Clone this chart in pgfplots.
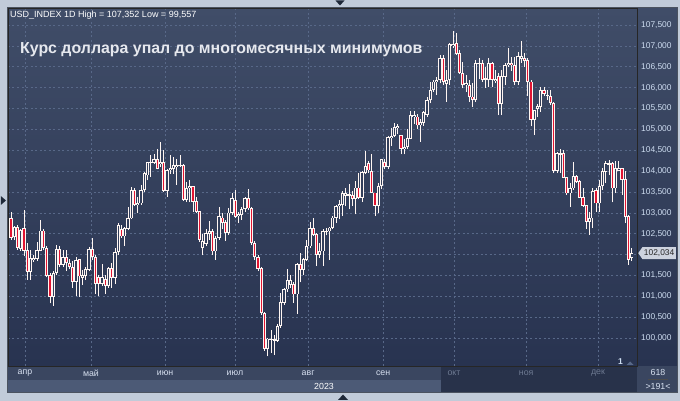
\documentclass[border=0pt]{standalone}
\usepackage{pgfplots}
\pgfplotsset{compat=1.18}
\usepackage{pgfplotstable}
\usepackage{fontspec}
\setmainfont{Liberation Sans}
\usetikzlibrary{shapes.symbols}

\definecolor{framec}{RGB}{193,203,217}
\definecolor{paneltop}{RGB}{64,77,104}
\definecolor{panelbot}{RGB}{40,51,80}
\definecolor{hollow}{RGB}{50,62,90}
\definecolor{candlered}{RGB}{225,20,50}
\definecolor{wickc}{RGB}{255,246,242}
\definecolor{gridc}{RGB}{88,104,136}
\definecolor{pricetxt}{RGB}{205,220,240}
\definecolor{monthtxt}{RGB}{215,224,240}
\definecolor{dimtxt}{RGB}{110,122,146}
\definecolor{rowA}{RGB}{58,70,96}
\definecolor{rowB}{RGB}{76,90,118}
\definecolor{rowdark}{RGB}{40,50,74}
\definecolor{tagfill}{RGB}{205,211,222}
\definecolor{titlec}{RGB}{230,232,238}
\definecolor{navy}{RGB}{30,40,56}

\pgfplotstableread{
i O H L C
0 102.86 103.01 102.36 102.41
1 102.42 102.68 102.36 102.66
2 102.66 102.70 102.12 102.17
3 102.14 102.62 102.08 102.58
4 102.63 103.07 101.96 102.10
5 102.10 102.28 101.40 101.59
6 101.59 102.12 101.40 101.90
7 101.88 102.00 101.82 101.92
8 101.90 102.30 101.85 102.10
9 102.10 102.82 102.08 102.57
10 102.57 102.60 102.10 102.16
11 102.16 102.20 101.45 101.50
12 101.50 101.55 100.83 101.00
13 101.00 101.60 100.77 101.56
14 101.56 102.24 101.50 102.12
15 102.12 102.20 101.70 101.76
16 101.76 102.10 101.70 101.94
17 101.94 102.12 101.60 101.80
18 101.80 101.90 101.65 101.70
19 101.70 101.84 101.20 101.35
20 101.35 101.94 101.00 101.86
21 101.88 101.90 100.98 101.48
22 101.44 101.64 101.28 101.50
23 101.50 101.70 101.40 101.64
24 101.64 102.18 101.60 102.12
25 102.12 102.40 101.88 101.94
26 101.94 102.00 101.05 101.30
27 101.45 101.50 101.00 101.30
28 101.30 101.78 101.25 101.45
29 101.40 101.50 101.05 101.25
30 101.25 101.70 101.20 101.66
31 101.66 101.80 101.20 101.45
32 101.45 102.16 101.30 102.06
33 102.06 102.75 102.00 102.69
34 102.60 102.70 102.40 102.44
35 102.44 102.67 102.20 102.62
36 102.62 103.13 102.58 102.87
37 102.87 103.61 102.84 103.55
38 103.55 103.59 103.17 103.19
39 103.19 103.39 102.99 103.23
40 103.23 103.67 103.19 103.55
41 103.55 103.98 103.51 103.94
42 103.90 104.22 103.78 104.20
43 104.20 104.38 103.86 104.22
44 104.20 104.40 104.18 104.28
45 104.28 104.54 104.04 104.06
46 104.18 104.70 104.10 104.22
47 104.22 104.50 103.50 103.53
48 103.53 104.06 103.39 104.02
49 104.02 104.38 103.94 104.06
50 104.06 104.34 103.94 104.14
51 104.10 104.30 103.67 104.14
52 104.12 104.38 104.10 104.14
53 104.14 104.16 103.29 103.31
54 103.31 103.75 103.27 103.59
55 103.59 103.79 103.25 103.63
56 103.63 103.63 103.03 103.27
57 103.27 103.39 102.99 103.03
58 103.03 103.05 102.30 102.36
59 102.16 102.50 101.98 102.32
60 102.26 102.60 102.20 102.50
61 102.50 102.80 102.36 102.56
62 102.56 102.60 102.00 102.08
63 102.08 102.45 101.88 102.40
64 102.40 103.15 102.36 102.91
65 102.88 102.99 102.60 102.77
66 102.77 102.83 102.32 102.52
67 102.52 103.11 102.48 103.00
68 103.00 103.47 102.95 103.35
69 103.31 103.55 102.87 102.91
70 102.92 103.03 102.75 102.97
71 102.95 103.15 102.83 103.09
72 103.09 103.39 103.03 103.35
73 103.35 103.56 103.07 103.11
74 103.11 103.15 102.24 102.28
75 102.28 102.32 101.88 101.94
76 101.94 101.98 101.60 101.67
77 101.67 101.70 100.55 100.60
78 100.60 100.62 99.70 99.75
79 99.75 100.00 99.557 99.98
80 99.96 100.20 99.64 99.98
81 99.94 100.07 99.60 99.96
82 99.94 100.33 99.90 100.29
83 100.29 101.07 100.25 100.85
84 100.85 101.20 100.80 101.17
85 101.17 101.66 101.10 101.38
86 101.28 101.50 101.20 101.38
87 101.29 101.33 100.85 101.05
88 101.05 101.80 100.57 101.76
89 101.76 102.04 101.33 101.64
90 101.64 101.92 101.52 101.88
91 101.88 102.36 101.85 102.20
92 102.20 102.79 102.16 102.63
93 102.63 102.87 102.44 102.48
94 102.48 102.52 101.72 102.00
95 102.00 102.28 101.92 102.08
96 102.08 102.60 101.72 102.56
97 102.54 102.63 102.46 102.56
98 102.56 102.67 101.88 102.64
99 102.64 102.92 102.60 102.88
100 102.88 103.18 102.76 103.16
101 103.16 103.30 102.84 103.20
102 103.20 103.52 102.92 103.46
103 103.42 103.60 103.16 103.46
104 103.42 103.70 103.08 103.44
105 103.42 103.52 103.16 103.34
106 103.34 103.76 102.96 103.60
107 103.60 103.96 103.32 103.36
108 103.36 104.00 103.26 103.96
109 103.96 104.48 103.92 104.12
110 104.18 104.24 103.96 104.02
111 104.00 104.40 103.48 103.48
112 103.48 103.48 102.92 103.18
113 103.18 103.72 103.00 103.64
114 103.64 104.30 103.56 104.28
115 104.22 104.28 104.04 104.10
116 104.10 104.84 104.04 104.80
117 104.80 105.04 104.60 104.84
118 104.84 105.16 104.82 105.06
119 105.04 105.12 104.88 105.08
120 104.86 104.86 104.40 104.54
121 104.54 104.76 104.40 104.58
122 104.58 105.00 104.54 104.78
123 104.78 105.44 104.76 105.34
124 105.30 105.44 105.14 105.34
125 105.30 105.36 105.00 105.10
126 105.10 105.24 104.70 105.16
127 105.16 105.44 105.08 105.40
128 105.35 105.78 105.30 105.70
129 105.70 106.14 105.62 105.94
130 105.94 106.18 105.90 106.14
131 106.14 106.26 105.82 106.18
132 106.18 106.78 106.10 106.70
133 106.70 106.78 106.06 106.14
134 106.10 106.42 105.66 106.18
135 106.18 107.06 106.06 107.04
136 107.00 107.352 106.95 107.04
137 107.06 107.30 106.78 106.82
138 106.82 106.90 106.33 106.35
139 106.34 106.62 105.98 106.06
140 106.06 106.30 105.90 106.10
141 106.06 106.18 105.66 105.78
142 105.78 106.10 105.54 105.70
143 105.70 106.66 105.66 106.58
144 106.56 106.70 106.20 106.59
145 106.59 106.66 106.14 106.19
146 106.19 106.50 106.00 106.22
147 106.18 106.70 106.02 106.58
148 106.58 106.62 106.02 106.19
149 106.16 106.42 106.10 106.20
150 106.27 106.34 105.34 105.62
151 105.62 106.42 105.34 106.27
152 106.27 106.58 106.06 106.54
153 106.54 106.94 106.50 106.59
154 106.59 106.74 106.40 106.54
155 106.54 106.74 106.06 106.14
156 106.14 106.86 106.06 106.74
157 106.70 107.12 106.60 106.74
158 106.70 106.82 106.50 106.64
159 106.66 106.70 105.80 106.14
160 106.14 106.18 105.07 105.23
161 105.23 105.46 104.86 105.46
162 105.50 105.60 105.30 105.55
163 105.54 106.02 105.42 105.94
164 105.94 106.02 105.80 105.86
165 105.80 105.95 105.70 105.82
166 105.79 105.95 105.58 105.63
167 105.63 105.66 103.95 104.01
168 104.01 104.46 103.95 104.42
169 104.40 104.54 103.95 104.42
170 104.42 104.50 103.83 103.85
171 103.85 103.87 103.43 103.47
172 103.47 103.71 103.15 103.59
173 103.59 104.22 103.55 103.87
174 103.87 103.91 103.71 103.75
175 103.75 103.79 103.35 103.37
176 103.37 103.59 103.15 103.17
177 103.17 103.19 102.61 102.79
178 102.79 103.03 102.47 102.87
179 102.87 103.59 102.63 103.51
180 103.53 103.59 103.03 103.23
181 103.23 103.79 103.03 103.64
182 103.64 104.07 103.55 103.99
183 103.99 104.25 103.71 104.18
184 104.16 104.26 103.90 104.18
185 104.18 104.22 103.25 103.59
186 103.59 104.25 103.47 104.07
187 104.00 104.25 103.99 104.07
188 104.07 104.07 103.43 103.79
189 103.81 104.01 102.75 102.91
190 102.91 102.95 101.76 101.88
191 101.92 102.15 101.84 102.034
}\usd

\begin{document}
\begin{tikzpicture}
% outer frame
\fill[framec] (0pt,0pt) rectangle (680pt,401pt);
% price scale area
\shade[top color=paneltop, bottom color=panelbot] (637pt,35pt) rectangle (677pt,393pt);
% time bar
\fill[rowA] (8pt,21pt) rectangle (441pt,35pt);
\fill[rowB] (8pt,9pt) rectangle (441pt,21pt);
\fill[rowdark] (441pt,9pt) rectangle (637pt,35pt);
\fill[rowA] (637pt,9pt) rectangle (677pt,35pt);
% markers
\fill[navy] (335.5pt,400.5pt) -- (344.5pt,400.5pt) -- (340pt,395.5pt) -- cycle;
\fill[navy] (0.8pt,205pt) -- (0.8pt,196pt) -- (6pt,200.5pt) -- cycle;
\fill[navy] (338pt,1pt) -- (348pt,1pt) -- (343pt,6.5pt) -- cycle;

\begin{axis}[
  at={(8pt,35pt)}, anchor=south west, scale only axis,
  width=629pt, height=358pt,
  xmin=-0.923, xmax=192.6, ymin=99.329, ymax=107.908,
  axis background/.style={shade, top color=paneltop, bottom color=panelbot},
  axis line style={draw=black!85, line width=0.8pt},
  major tick length=0pt,
  xtick={4.31,24.6,47.4,68.9,91.4,114.5,136.3,158.5,180.6},
  xticklabels={апр,май,июн,июл,авг,сен,\textcolor{dimtxt}{окт},\textcolor{dimtxt}{ноя},\textcolor{dimtxt}{дек}},
  xticklabel style={anchor=center, yshift=-7pt, font=\fontsize{8.8}{10}\selectfont, text=monthtxt, inner sep=0pt},
  ytick={100,100.5,101,101.5,102,102.5,103,103.5,104,104.5,105,105.5,106,106.5,107,107.5},
  yticklabels={100{,}000,100{,}500,101{,}000,101{,}500,{},102{,}500,103{,}000,103{,}500,104{,}000,104{,}500,105{,}000,105{,}500,106{,}000,106{,}500,107{,}000,107{,}500},
  yticklabel pos=right,
  yticklabel style={anchor=west, xshift=4pt, inner sep=0pt, font=\fontsize{8.4}{9}\selectfont, text=pricetxt},
  grid=major,
  major grid style={draw=gridc, dash pattern=on 2pt off 2.5pt, line width=0.6pt},
  extra y ticks={102.034},
  extra y tick labels={102{,}034},
  extra y tick style={grid=none, yticklabel style={shape=signal, signal to=west, signal pointer angle=110, fill=tagfill, text=black!85, inner xsep=1.5pt, inner ysep=2.5pt, xshift=-3pt}},
]
% wicks
\addplot[draw=none, no markers, error bars/.cd, y dir=plus, y explicit, error mark=none,
  error bar style={draw=wickc, solid, line width=0.9pt}]
  table[x=i, y=L, y error plus expr={\thisrow{H}-\thisrow{L}}] {\usd};
% body outlines
\addplot[draw=none, no markers, error bars/.cd, y dir=plus, y explicit, error mark=none,
  error bar style={draw=wickc, solid, line width=3.2pt}]
  table[x=i, y expr={min(\thisrow{O},\thisrow{C})-0.006}, y error plus expr={abs(\thisrow{C}-\thisrow{O})+0.012}] {\usd};
% bearish fill
\addplot[draw=none, no markers, restrict expr to domain={\thisrow{C}-\thisrow{O}}{-100:-0.0001},
  error bars/.cd, y dir=plus, y explicit, error mark=none,
  error bar style={draw=candlered, solid, line width=1.4pt}]
  table[x=i, y expr={\thisrow{C}+0.016}, y error plus expr={max(\thisrow{O}-\thisrow{C}-0.032,0)}] {\usd};
% bullish hollow
\addplot[draw=none, no markers, restrict expr to domain={\thisrow{C}-\thisrow{O}}{0.0001:100},
  error bars/.cd, y dir=plus, y explicit, error mark=none,
  error bar style={draw=hollow, solid, line width=1.4pt}]
  table[x=i, y expr={\thisrow{O}+0.016}, y error plus expr={max(\thisrow{C}-\thisrow{O}-0.032,0)}] {\usd};
\end{axis}

\draw[navy!80, line width=0.8pt] (7.4pt,8.6pt) rectangle (677pt,393.4pt);
% texts
\node[anchor=west, inner sep=0pt, text=white, font=\fontsize{9}{10}\selectfont] at (10pt,386pt) {USD\_INDEX 1D High = 107,352 Low = 99,557};
\node[anchor=west, inner sep=0pt, text=titlec, font=\bfseries\fontsize{15.9}{18}\selectfont] at (20pt,351pt) {Курс доллара упал до многомесячных минимумов};
\node[inner sep=0pt, text=white, font=\fontsize{8.8}{10}\selectfont] at (324pt,15pt) {2023};
\node[inner sep=0pt, text=monthtxt, font=\fontsize{8.8}{10}\selectfont] at (658pt,28.5pt) {618};
\draw[black!70, line width=0.6pt] (648pt,21.5pt) -- (668pt,21.5pt);
\node[inner sep=0pt, text=monthtxt, font=\fontsize{8.8}{10}\selectfont] at (658pt,15pt) {>191<};
\node[inner sep=0pt, text=pricetxt, font=\bfseries\fontsize{8.5}{9}\selectfont] at (620.5pt,39.5pt) {1};
\fill[gridc] (626.5pt,36pt) -- (633.5pt,36pt) -- (630pt,39.5pt) -- cycle;
\end{tikzpicture}
\end{document}
